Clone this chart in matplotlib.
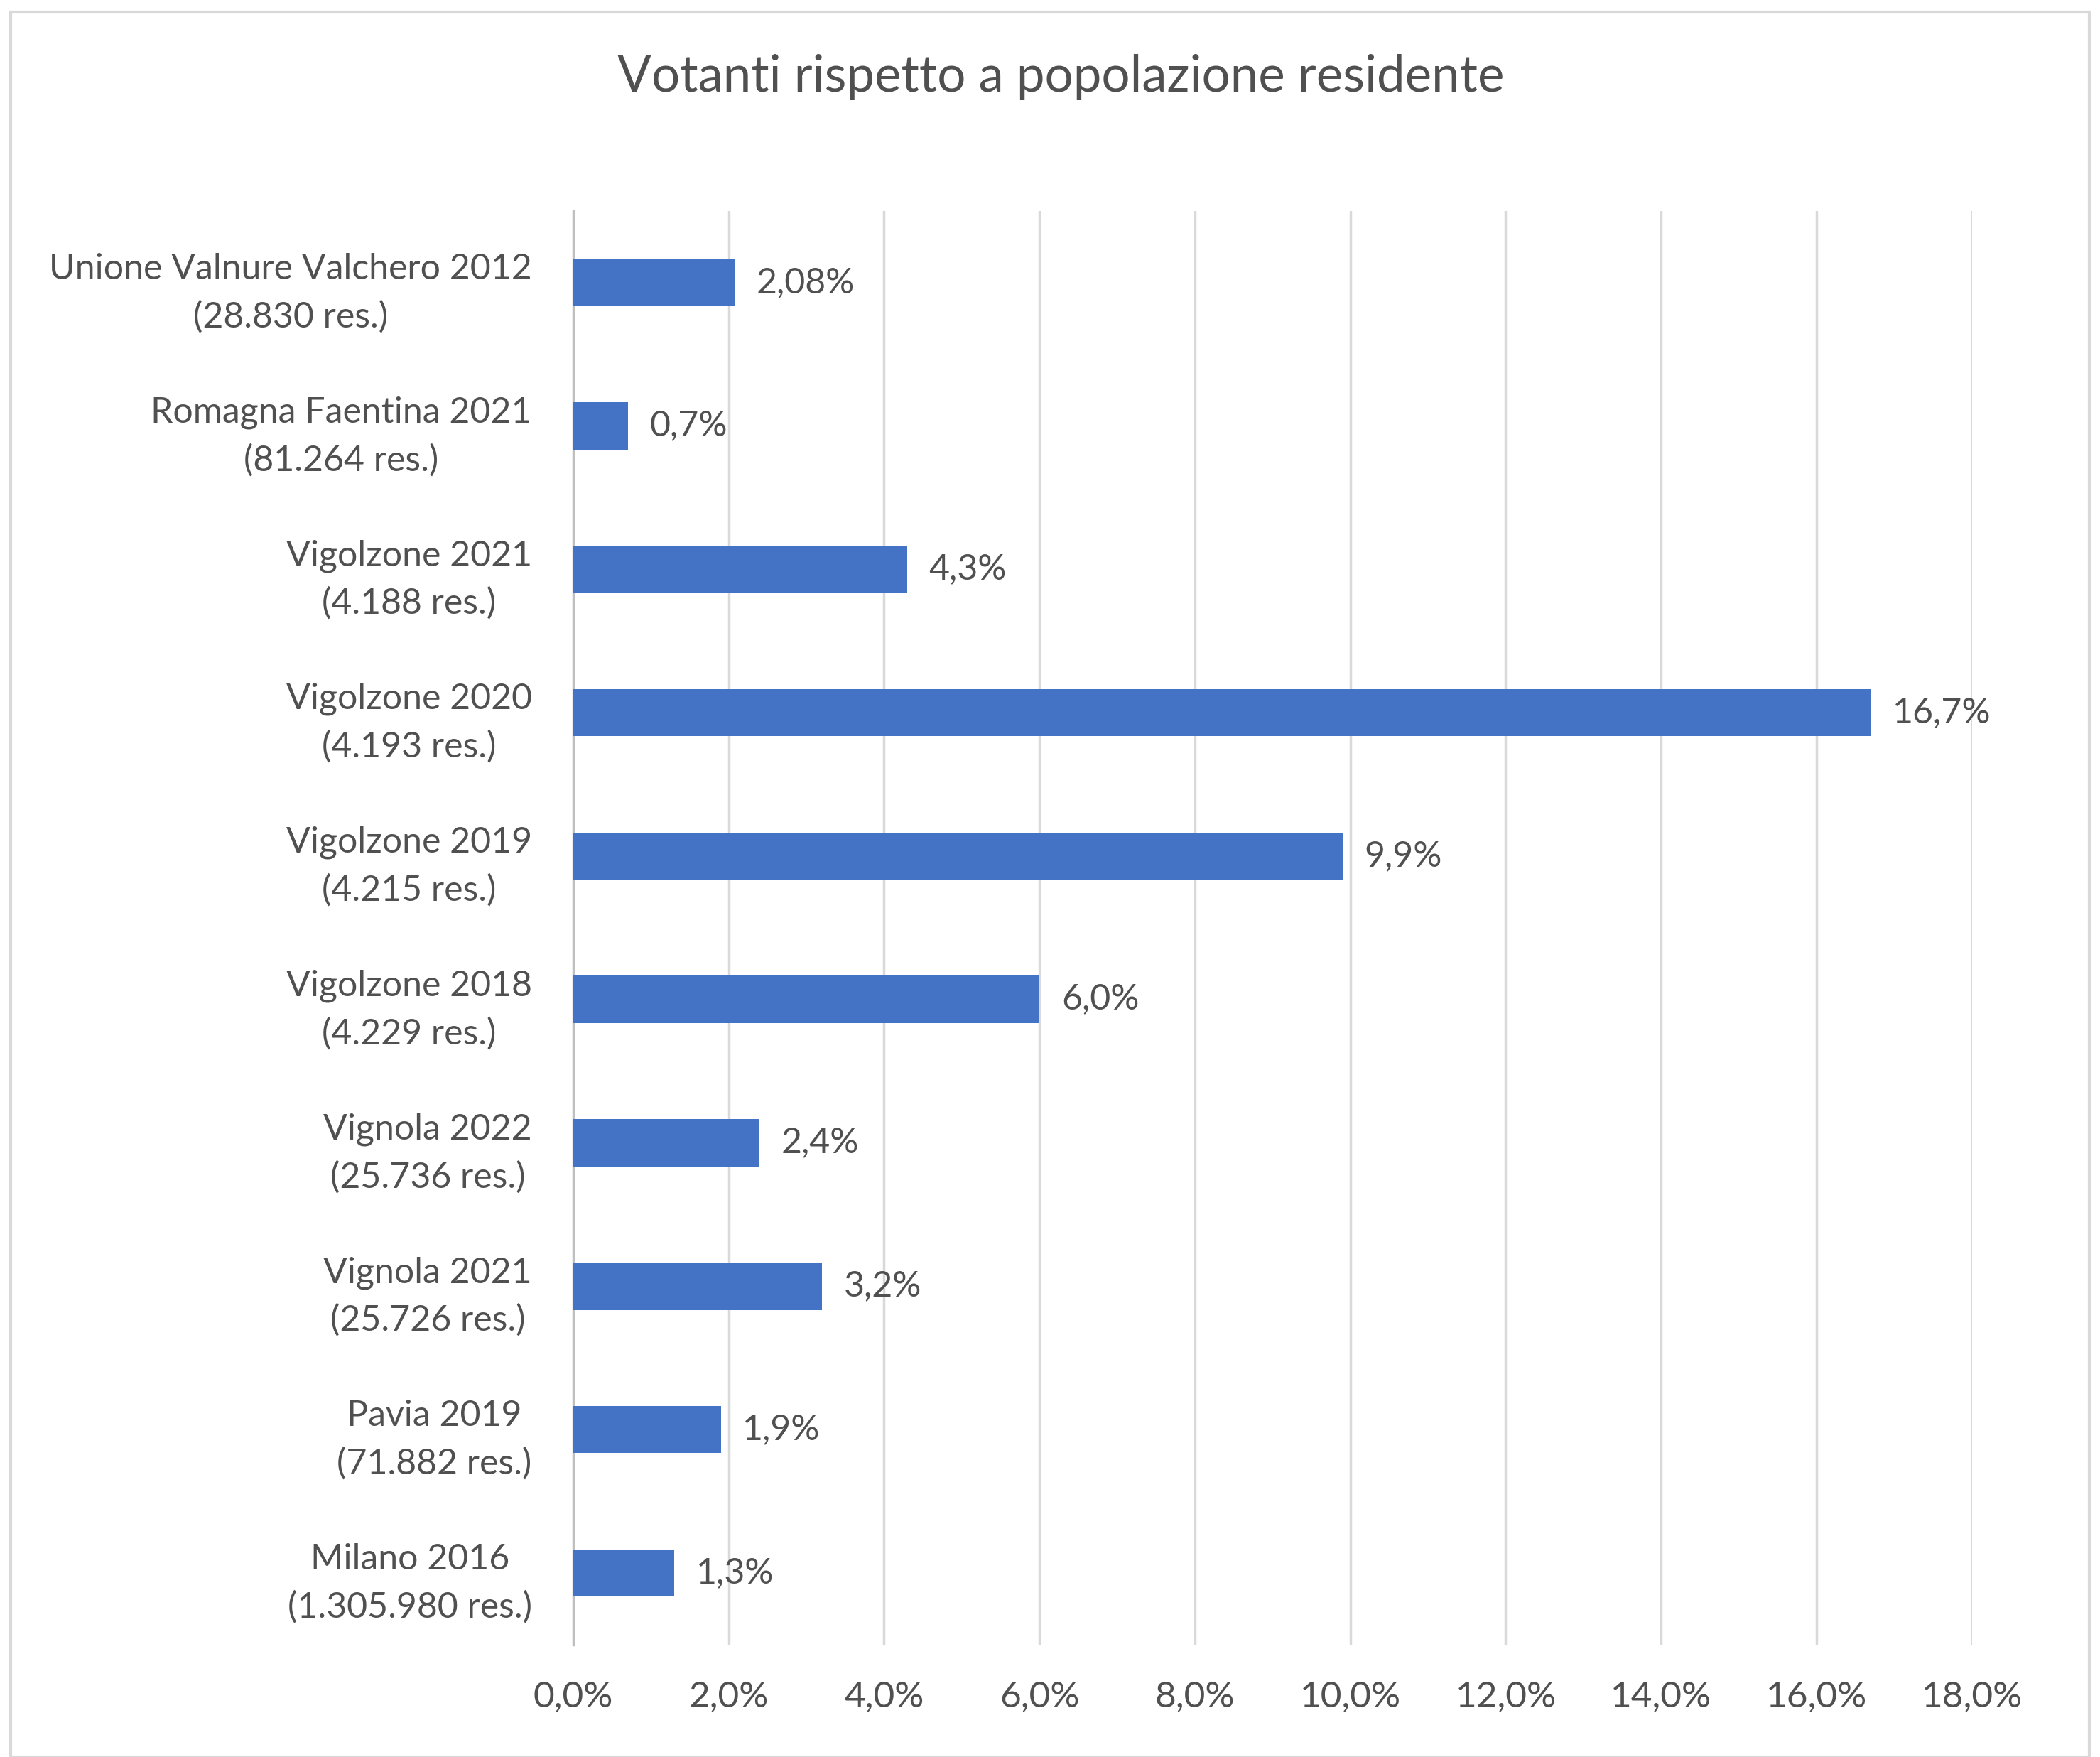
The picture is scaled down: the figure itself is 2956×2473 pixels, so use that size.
import matplotlib.pyplot as plt
from matplotlib.patches import Rectangle

plt.rcParams['font.family'] = ['Lato', 'DejaVu Sans']

categories = [
    'Unione Valnure Valchero 2012\n(28.830 res.)',
    'Romagna Faentina 2021\n(81.264 res.)',
    'Vigolzone 2021\n(4.188 res.)',
    'Vigolzone 2020\n(4.193 res.)',
    'Vigolzone 2019\n(4.215 res.)',
    'Vigolzone 2018\n(4.229 res.)',
    'Vignola 2022\n(25.736 res.)',
    'Vignola 2021\n(25.726 res.)',
    'Pavia 2019\n(71.882 res.)',
    'Milano 2016\n(1.305.980 res.)',
]
values = [2.08, 0.7, 4.3, 16.7, 9.9, 6.0, 2.4, 3.2, 1.9, 1.3]
value_labels = ['2,08%', '0,7%', '4,3%', '16,7%', '9,9%', '6,0%', '2,4%', '3,2%', '1,9%', '1,3%']
xticks = [0, 2, 4, 6, 8, 10, 12, 14, 16, 18]

text_col = '#505050'
bar_col = '#4472C4'

fig = plt.figure(figsize=(29.56, 24.73), dpi=100)
ax = fig.add_axes([0.273, 0.064, 0.666, 0.816])

ypos = list(range(len(categories)))[::-1]
ax.barh(ypos, values, height=0.33, color=bar_col, zorder=3)
for y, v, lab in zip(ypos, values, value_labels):
    ax.annotate(lab, (v, y), xytext=(22, 0), textcoords='offset points',
                va='center', ha='left', fontsize=36, color=text_col)

ax.set_xlim(0, 18)
ax.set_ylim(-0.5, len(categories) - 0.5)
ax.set_xticks(xticks)
ax.set_xticklabels([f'{t:.1f}%'.replace('.', ',') for t in xticks], fontsize=37, color=text_col)
ax.set_yticks(ypos)
ax.set_yticklabels(categories, fontsize=36, color=text_col, ha='right',
                   multialignment='center', linespacing=1.55)
ax.tick_params(axis='y', length=0, pad=42)
ax.tick_params(axis='x', length=0, pad=36)
ax.grid(axis='x', color='#D9D9D9', linewidth=2.5, zorder=0)
for s in ['top', 'right', 'bottom']:
    ax.spines[s].set_visible(False)
ax.spines['left'].set_color('#BFBFBF')
ax.spines['left'].set_linewidth(2.5)

fig.text(0.505, 0.956, 'Votanti rispetto a popolazione residente', ha='center', va='center',
         fontsize=51, color=text_col)
fig.patches.append(Rectangle((0.005, 0.0), 0.99, 0.993, transform=fig.transFigure,
                             fill=False, edgecolor='#D9D9D9', linewidth=3))

fig.savefig('out.png', dpi=100, facecolor='white')
